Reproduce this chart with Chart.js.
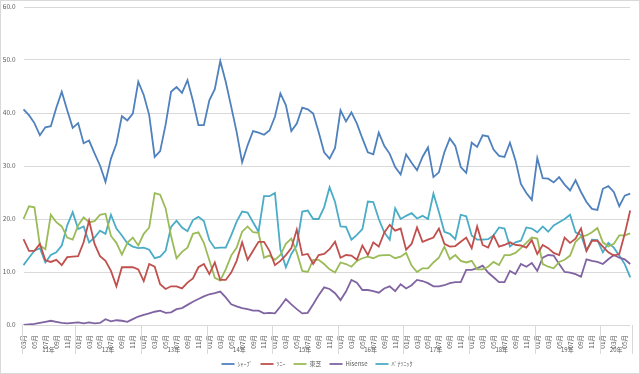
<!DOCTYPE html>
<html><head><meta charset="utf-8">
<script src="https://cdn.jsdelivr.net/npm/chart.js@4.4.0/dist/chart.umd.min.js"></script>
<style>html,body{margin:0;padding:0;background:#fff}canvas{display:block}</style>
</head><body>
<canvas id="c" width="640" height="374"></canvas>
<script>
const categories = [
'2011/03','2011/04','2011/05','2011/06','2011/07','2011/08','2011/09','2011/10','2011/11','2011/12',
'2012/01','2012/02','2012/03','2012/04','2012/05','2012/06','2012/07','2012/08','2012/09','2012/10','2012/11','2012/12',
'2013/01','2013/02','2013/03','2013/04','2013/05','2013/06','2013/07','2013/08','2013/09','2013/10','2013/11','2013/12',
'2014/01','2014/02','2014/03','2014/04','2014/05','2014/06','2014/07','2014/08','2014/09','2014/10','2014/11','2014/12',
'2015/01','2015/02','2015/03','2015/04','2015/05','2015/06','2015/07','2015/08','2015/09','2015/10','2015/11','2015/12',
'2016/01','2016/02','2016/03','2016/04','2016/05','2016/06','2016/07','2016/08','2016/09','2016/10','2016/11','2016/12',
'2017/01','2017/02','2017/03','2017/04','2017/05','2017/06','2017/07','2017/08','2017/09','2017/10','2017/11','2017/12',
'2018/01','2018/02','2018/03','2018/04','2018/05','2018/06','2018/07','2018/08','2018/09','2018/10','2018/11','2018/12',
'2019/01','2019/02','2019/03','2019/04','2019/05','2019/06','2019/07','2019/08','2019/09','2019/10','2019/11','2019/12',
'2020/01','2020/02','2020/03','2020/04','2020/05','2020/06'
];
const seriesNames = ['ｼｬｰﾌﾟ','ｿﾆｰ','東芝','Hisense','ﾊﾟﾅｿﾆｯｸ'];
const sharp = [40.7,39.6,38.1,35.8,37.3,37.5,41.0,44.0,40.5,37.2,
38.1,34.3,34.8,32.4,30.1,27.0,31.4,34.2,39.4,38.6,
39.9,45.9,43.4,39.6,31.7,32.8,37.8,44.0,44.9,43.8,
46.2,42.3,37.7,37.7,42.4,44.5,49.8,45.9,41.2,36.4,
30.7,33.9,36.6,36.3,35.9,36.7,39.3,43.7,41.5,36.6,
38.0,41.0,40.7,39.9,36.4,32.6,31.4,33.4,40.5,38.4,
40.1,38.0,35.2,32.6,32.2,36.3,33.8,32.3,29.8,28.4,
32.2,30.6,29.2,31.7,33.5,27.9,28.8,32.6,35.2,33.8,
29.8,28.7,34.4,33.6,35.8,35.6,33.1,31.9,31.7,34.4,
31.1,26.6,24.9,23.6,31.5,27.7,27.6,26.9,27.9,26.5,
25.4,27.3,25.1,23.2,21.9,21.7,25.7,26.2,25.1,22.4,
24.4,24.8];
const sony = [16.2,14.0,14.0,15.3,12.2,11.9,12.3,11.3,12.8,12.9,
13.0,15.6,19.7,15.3,13.0,12.1,10.2,7.3,10.9,10.9,
10.9,10.5,8.3,11.5,11.0,7.7,6.8,7.3,7.3,6.9,
8.0,8.8,10.9,11.5,9.6,11.8,8.5,8.5,9.9,12.1,
15.6,12.3,14.0,15.7,15.7,14.0,11.3,12.1,13.2,14.5,
18.0,13.2,13.4,11.5,13.2,13.4,14.3,15.7,12.7,13.2,
13.1,12.3,15.0,13.2,15.6,14.8,17.4,18.9,17.8,18.2,
14.2,15.3,18.4,15.7,16.1,16.5,18.2,15.3,14.8,14.9,
15.7,16.5,14.5,18.6,15.1,14.6,16.9,14.8,15.1,15.6,
15.1,15.0,14.6,16.0,13.4,15.1,14.5,13.6,13.2,16.5,
15.5,16.3,18.2,14.0,15.9,15.9,14.8,13.7,13.1,13.4,
17.2,21.6];
const toshiba = [20.0,22.4,22.2,15.0,14.3,20.8,19.4,18.6,16.5,16.1,
18.8,20.3,19.4,19.6,20.8,21.0,16.8,15.5,13.3,15.5,
16.5,15.0,17.2,18.4,24.9,24.6,22.0,16.8,12.6,13.8,
14.6,17.2,17.5,15.5,12.2,8.9,8.4,10.5,13.1,14.6,
17.6,18.6,17.5,17.4,12.7,13.1,12.3,13.2,15.3,16.3,
13.7,10.2,10.0,12.3,12.3,11.5,10.5,9.9,11.8,11.5,
11.0,12.1,12.6,12.9,12.6,13.1,13.2,13.2,12.6,12.9,
13.6,11.2,10.0,10.7,10.7,11.8,12.7,14.8,12.4,13.2,
12.1,11.8,12.1,10.5,10.5,11.0,11.9,11.3,13.2,13.2,
13.6,14.5,15.5,16.5,16.3,11.5,11.0,10.7,11.9,12.3,
13.1,15.7,16.7,16.9,17.5,18.3,15.6,14.8,15.3,16.9,
16.9,17.3];
const hisense = [0.0,0.1,0.2,0.4,0.6,0.8,0.6,0.4,0.3,0.4,
0.5,0.3,0.5,0.3,0.4,1.1,0.7,0.9,0.8,0.6,
1.1,1.6,1.9,2.2,2.5,2.7,2.3,2.4,3.0,3.2,
3.8,4.4,4.9,5.4,5.8,6.0,6.3,5.2,3.9,3.5,
3.2,3.0,2.7,2.7,2.2,2.3,2.2,3.5,4.9,3.9,
3.0,2.2,2.3,3.9,5.6,7.1,6.8,6.0,4.7,6.3,
8.5,8.0,6.6,6.6,6.4,6.1,6.9,7.3,6.4,7.7,
6.9,7.5,8.5,8.3,7.9,7.3,7.3,7.5,7.9,8.1,
8.1,10.4,10.4,10.7,11.2,9.9,9.0,8.1,8.1,10.2,
9.6,11.5,11.0,11.7,10.2,12.7,13.2,13.1,11.5,10.0,
9.9,9.6,9.1,12.4,12.1,11.9,11.5,12.4,13.2,12.7,
12.4,11.5];
const panasonic = [11.3,12.7,14.0,14.5,11.8,13.2,13.7,15.0,18.8,21.3,
18.1,18.6,15.6,16.5,17.8,17.2,20.8,18.2,16.9,15.4,
14.8,14.5,14.6,14.2,12.6,12.9,14.0,18.5,19.7,18.4,
17.7,19.8,20.4,19.6,16.0,14.5,14.6,14.6,16.9,19.5,
21.4,21.2,19.4,17.6,24.3,24.3,24.9,14.3,10.9,13.4,
15.0,21.4,21.6,20.0,20.0,22.2,26.0,23.2,18.6,18.5,
16.1,17.0,18.1,23.3,23.2,20.0,17.5,16.1,22.0,20.0,
20.6,21.1,20.1,20.6,20.0,24.8,21.3,17.6,17.2,16.2,
20.8,20.5,16.9,16.1,16.1,16.2,16.9,18.4,18.2,14.8,
15.6,15.9,18.4,18.2,17.5,18.6,17.6,18.8,19.4,20.0,
20.8,17.5,17.0,14.0,16.1,16.0,13.7,15.5,14.6,13.1,
11.5,9.0];
const yTicks = [0,10,20,30,40,50,60];

const FONT = "'Noto Sans CJK JP','Noto Sans',sans-serif";
const GRID = '#d9d9d9';
const TEXT = '#595959';
const colors = ['#4F81BD','#C0504D','#9BBB59','#8064A2','#4BACC6'];
const values = [sharp, sony, toshiba, hisense, panasonic];

const framePlugin = {
  id: 'frame',
  beforeDraw(chart) {
    const ctx = chart.ctx;
    ctx.save();
    ctx.fillStyle = '#fff';
    ctx.fillRect(0, 0, chart.width, chart.height);
    ctx.restore();
  },
  afterDraw(chart) {
    const ctx = chart.ctx;
    ctx.save();
    ctx.strokeStyle = GRID;
    ctx.lineWidth = 1;
    ctx.strokeRect(0.5, 0.5, chart.width - 1, chart.height - 1);
    ctx.restore();
  }
};

const yearPlugin = {
  id: 'years',
  afterDraw(chart) {
    const xs = chart.scales.x, ctx = chart.ctx, area = chart.chartArea;
    const groups = [];
    categories.forEach((c, i) => {
      const y = c.split('/')[0];
      const g = groups[groups.length - 1];
      if (!g || g.y !== y) groups.push({ y, s: i, e: i }); else g.e = i;
    });
    ctx.save();
    ctx.strokeStyle = GRID;
    ctx.lineWidth = 1;
    ctx.fillStyle = TEXT;
    ctx.font = '6px ' + FONT;
    ctx.textAlign = 'center';
    ctx.textBaseline = 'middle';
    const top = area.bottom, bot = area.bottom + 29;
    groups.forEach((g, k) => {
      const left = k === 0 ? area.left - 2 : (xs.getPixelForValue(g.s - 1) + xs.getPixelForValue(g.s)) / 2;
      const right = k === groups.length - 1 ? area.right + 2 : (xs.getPixelForValue(g.e) + xs.getPixelForValue(g.e + 1)) / 2;
      [left, right].forEach(px => {
        const p = Math.round(px) + 0.5;
        ctx.beginPath(); ctx.moveTo(p, top); ctx.lineTo(p, bot); ctx.stroke();
      });
      ctx.fillText(g.y.slice(2) + '年', (left + right) / 2, area.bottom + 25);
    });
    ctx.restore();
  }
};

new Chart(document.getElementById('c'), {
  type: 'line',
  data: {
    labels: categories,
    datasets: seriesNames.map((n, k) => ({
      label: n,
      data: values[k],
      borderColor: colors[k],
      backgroundColor: colors[k],
      borderWidth: 1.8,
      pointRadius: 0,
      tension: 0,
      fill: false
    }))
  },
  options: {
    responsive: false,
    animation: false,
    events: [],
    layout: { padding: { left: 3, right: 9, top: 7, bottom: -3 } },
    scales: {
      x: {
        type: 'category',
        offset: false,
        grid: { display: false },
        border: { display: false },
        afterFit(scale) { scale.height = 28; scale.paddingLeft = 0; },
        ticks: {
          autoSkip: false,
          maxRotation: 90,
          minRotation: 90,
          padding: 2,
          color: TEXT,
          font: { size: 6.5, family: FONT },
          callback(v, i) {
            const m = categories[i].slice(5);
            return parseInt(m, 10) % 2 === 1 ? m + '月' : '';
          }
        }
      },
      y: {
        min: 0, max: 60,
        afterBuildTicks(scale) { scale.ticks = yTicks.map(v => ({ value: v })); },
        afterFit(scale) { scale.width = 20.5; scale.paddingTop = 0; scale.paddingBottom = 0; },
        grid: { color: GRID, drawTicks: false, lineWidth: 1 },
        border: { display: false },
        ticks: {
          padding: 8,
          color: TEXT,
          font: { size: 6.5, family: FONT },
          callback: v => Number(v).toFixed(1)
        }
      }
    },
    plugins: {
      legend: {
        position: 'bottom',
        labels: {
          usePointStyle: true,
          pointStyle: 'line',
          pointStyleWidth: 13,
          boxHeight: 6,
          padding: 8,
          color: TEXT,
          font: { size: 6, family: FONT }
        }
      },
      tooltip: { enabled: false }
    }
  },
  plugins: [framePlugin, yearPlugin]
});
</script>
</body></html>
